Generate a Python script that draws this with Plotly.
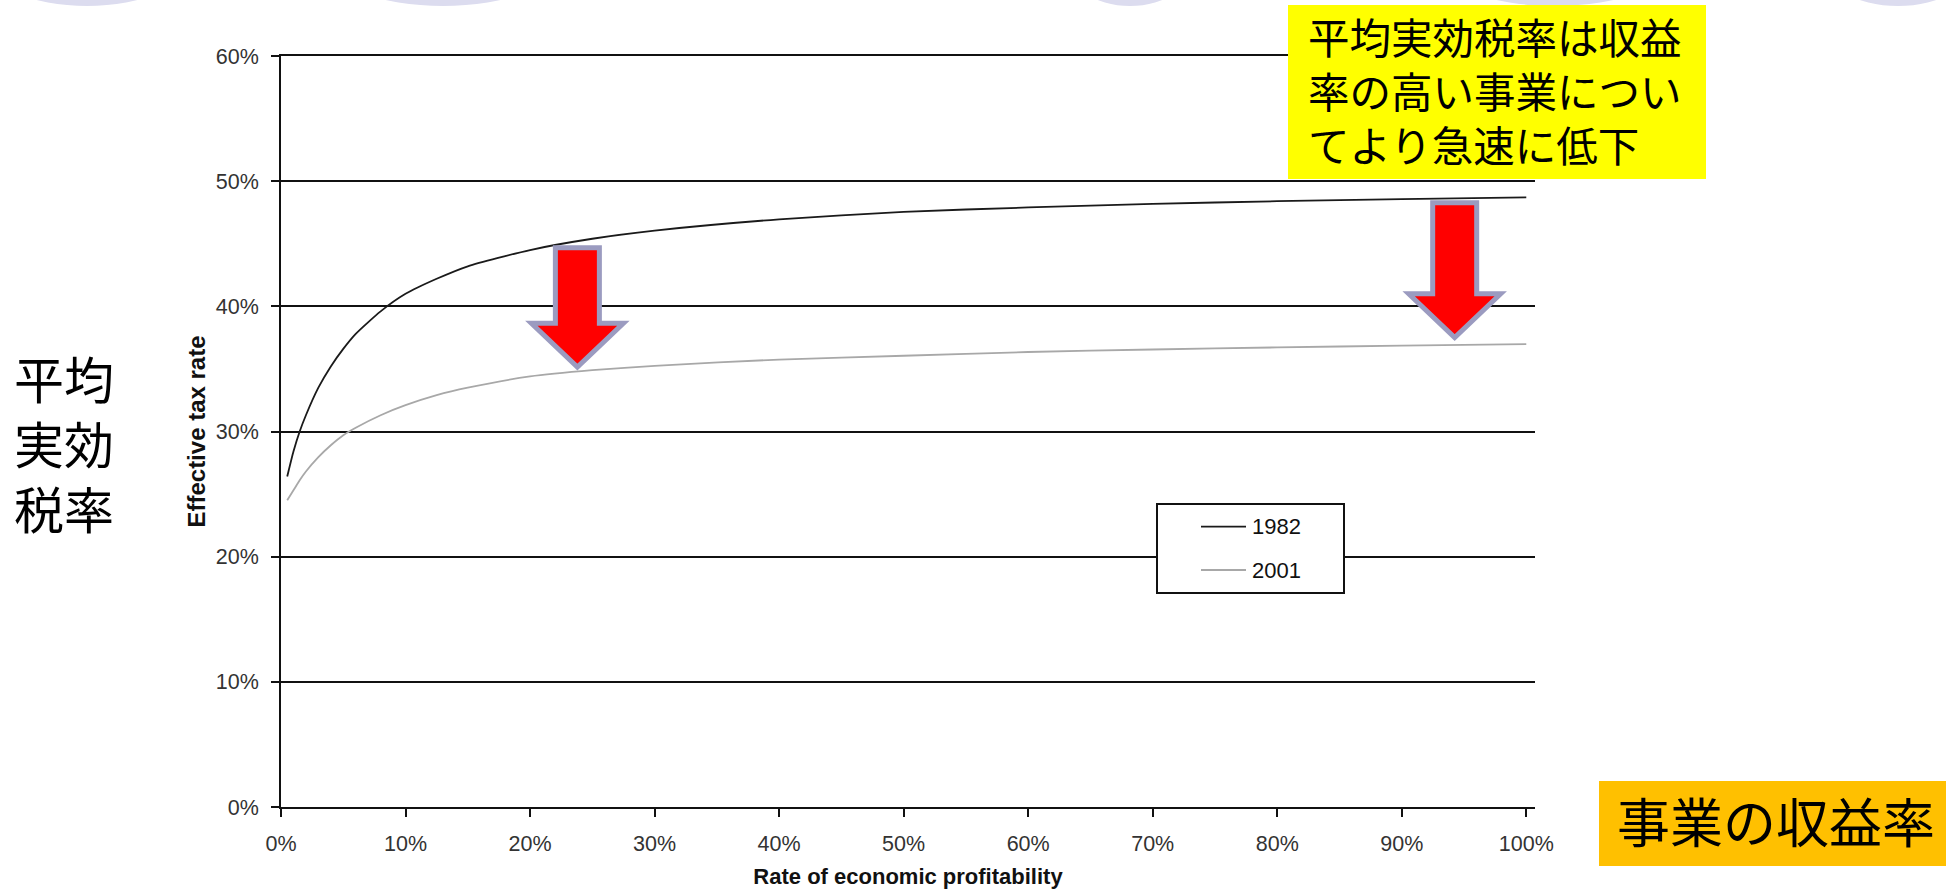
import plotly.graph_objects as go

# ---------------------------------------------------------------- data
rate = [0.5, 1, 1.5, 2, 3, 4, 5, 6, 8, 10, 12.5, 15, 20, 25, 30, 40, 50, 60, 70, 80, 90, 100]
tax_1982 = [26.4, 28.4, 30.0, 31.3, 33.5, 35.2, 36.6, 37.8, 39.6, 41.0, 42.2, 43.2,
            44.5, 45.4, 46.05, 46.95, 47.55, 47.9, 48.18, 48.4, 48.57, 48.7]
tax_2001 = [24.5, 25.3, 26.1, 26.8, 27.95, 28.9, 29.7, 30.3, 31.3, 32.1, 32.9, 33.5,
            34.4, 34.9, 35.25, 35.75, 36.05, 36.35, 36.55, 36.72, 36.86, 36.98]
series_names = ["1982", "2001"]

x_tick_vals = [0, 10, 20, 30, 40, 50, 60, 70, 80, 90, 100]
x_tick_text = ["0%", "10%", "20%", "30%", "40%", "50%", "60%", "70%", "80%", "90%", "100%"]
y_tick_vals = [0, 10, 20, 30, 40, 50, 60]
y_tick_text = ["0%", "10%", "20%", "30%", "40%", "50%", "60%"]

x_title = "Rate of economic profitability"
y_title = "Effective tax rate"
side_label = ["平均", "実効", "税率"]
note_lines = ["平均実効税率は収益", "率の高い事業につい", "てより急速に低下"]
bottom_label = "事業の収益率"

# ---------------------------------------------------------------- layout geometry (px)
W, H = 1957, 889
PL, PR, PT, PB = 281, 1535, 56, 807


def px(x):
    return (x - PL) / (PR - PL)


def py(y):
    return (PB - y) / (PB - PT)


LINE_FONT = "Liberation Sans, Arial, Helvetica, sans-serif"
JP_FONT = "Noto Sans CJK JP, Noto Sans CJK SC, sans-serif"

fig = go.Figure()
fig.add_trace(go.Scatter(x=rate, y=tax_1982, mode="lines", name=series_names[0],
                         line=dict(color="#1a1a1a", width=1.8, shape="spline", smoothing=0.6),
                         showlegend=False))
fig.add_trace(go.Scatter(x=rate, y=tax_2001, mode="lines", name=series_names[1],
                         line=dict(color="#a8a8a8", width=1.8, shape="spline", smoothing=0.6),
                         showlegend=False))

shapes = []

# faint decorative ellipses peeking in at the top edge
for cx, half in [(87, 50), (443, 57), (1130, 32), (1555, 58), (1898, 38)]:
    rx = half / 0.49
    shapes.append(dict(type="circle", xref="paper", yref="paper", layer="below",
                       x0=px(cx - rx), x1=px(cx + rx), y0=py(6), y1=py(-86),
                       fillcolor="#dcdcef", line=dict(width=0)))

# down arrows from the 1982 curve to the 2001 curve
shaft, head, head_h = 22, 46, 3.5
for ax, top, tip in [(23.8, 44.68, 35.15), (94.25, 48.28, 37.5)]:
    base = tip + head_h
    path = (f"M{-shaft},{top} L{shaft},{top} L{shaft},{base} L{head},{base} "
            f"L0,{tip} L{-head},{base} L{-shaft},{base} Z")
    shapes.append(dict(type="path", xref="x", yref="y", xsizemode="pixel", xanchor=ax,
                       path=path, fillcolor="#ff0000",
                       line=dict(color="#9b9bc0", width=5)))

# legend frame and samples
shapes.append(dict(type="rect", xref="paper", yref="paper",
                   x0=px(1157), x1=px(1344), y0=py(593), y1=py(504),
                   fillcolor="white", line=dict(color="#111", width=2)))
for yy, col in [(526.7, "#1a1a1a"), (570, "#a8a8a8")]:
    shapes.append(dict(type="line", xref="paper", yref="paper",
                       x0=px(1201), x1=px(1246), y0=py(yy), y1=py(yy),
                       line=dict(color=col, width=1.8)))

# callout boxes
shapes.append(dict(type="rect", xref="paper", yref="paper",
                   x0=px(1288), x1=px(1706), y0=py(179), y1=py(5),
                   fillcolor="#ffff00", line=dict(width=0)))
shapes.append(dict(type="rect", xref="paper", yref="paper",
                   x0=px(1599), x1=px(1946), y0=py(866), y1=py(781),
                   fillcolor="#ffc000", line=dict(width=0)))

annotations = []
for name, yy in zip(series_names, [526.7, 570]):
    annotations.append(dict(xref="paper", yref="paper", x=px(1250), y=py(yy),
                            xanchor="left", yanchor="middle", showarrow=False, text=name,
                            font=dict(family=LINE_FONT, size=22, color="#111")))
annotations.append(dict(xref="paper", yref="paper", x=px(64), y=py(442),
                        xanchor="center", yanchor="middle", showarrow=False,
                        text="<br>".join(side_label), align="center",
                        font=dict(family=JP_FONT, size=50, color="#000")))
annotations.append(dict(xref="paper", yref="paper", x=px(1306), y=py(90),
                        xanchor="left", yanchor="middle", showarrow=False,
                        text="<br>".join(note_lines), align="left",
                        font=dict(family=JP_FONT, size=41.5, color="#000")))
annotations.append(dict(xref="paper", yref="paper", x=px(1776), y=py(820),
                        xanchor="center", yanchor="middle", showarrow=False, text=bottom_label,
                        font=dict(family=JP_FONT, size=53, color="#000")))

axis_common = dict(showline=True, linecolor="#111", linewidth=1.7,
                   ticks="outside", ticklen=8, tickwidth=1.7, tickcolor="#111",
                   tickfont=dict(family=LINE_FONT, size=21.5, color="#333"),
                   zeroline=False, automargin=False)

fig.update_layout(
    width=W, height=H,
    margin=dict(l=PL, r=W - PR, t=PT, b=H - PB, pad=0),
    paper_bgcolor="white", plot_bgcolor="white",
    showlegend=False,
    xaxis=dict(range=[0, 100.7], tickvals=x_tick_vals, ticktext=x_tick_text,
               showgrid=False, ticklabelstandoff=8, mirror=True,
               title=dict(text=f"<b>{x_title}</b>", standoff=18,
                          font=dict(family=LINE_FONT, size=22, color="#111")),
               **axis_common),
    yaxis=dict(range=[0, 60], tickvals=y_tick_vals, ticktext=y_tick_text,
               showgrid=True, gridcolor="#111", gridwidth=1.7, ticklabelstandoff=8,
               title=dict(text=f"<b>{y_title}</b>", standoff=3,
                          font=dict(family=LINE_FONT, size=24, color="#111")),
               **axis_common),
    shapes=shapes,
    annotations=annotations,
)

fig.write_html("out.html")
